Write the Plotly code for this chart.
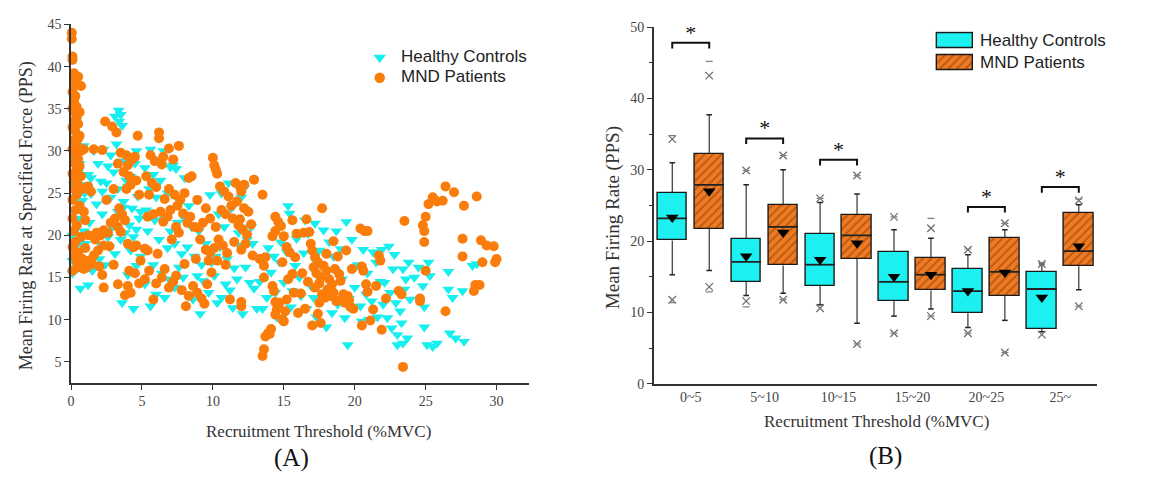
import plotly.graph_objects as go

W, H = 1175, 482

# ---------------- Panel A data (Recruitment threshold %MVC, mean firing rate PPS)
hc_pts = [
    (0.1,15.5),(0.1,17.0),(0.2,18.5),(0.1,20.0),(0.3,21.5),(0.2,23.0),(0.4,24.5),(0.2,26.0),(0.5,27.5),(0.3,29.0),
    (0.3,30.2),(0.6,28.5),(0.7,26.0),(0.8,24.1),(0.6,22.0),(0.9,20.5),(0.7,19.0),(0.5,17.5),(0.65,13.7),(0.9,30.6),
    (0.95,25.0),(0.4,16.0),
    (3.35,34.8),(3.5,34.3),(3.1,34.1),(3.4,33.5),(3.6,33.0),(1.6,30.0),(2.3,30.2),(2.8,29.5),(3.2,30.8),(4.6,30.0),
    (1.4,26.8),(2.1,26.4),(2.5,26.2),(1.2,27.2),(1.9,28.5),(2.6,28.2),(3.0,27.5),(3.8,28.8),(4.2,27.0),(4.5,28.5),
    (1.4,24.9),(1.8,23.7),(2.2,25.2),(2.8,24.5),(3.3,25.5),(3.7,24.0),(4.0,25.8),(4.3,23.2),(4.7,24.6),(4.9,22.8),
    (3.9,26.5),
    (1.2,14.1),(1.5,15.8),(2.0,17.2),(2.4,16.5),(2.7,18.6),(3.1,17.8),(3.5,19.5),(3.8,20.3),(4.1,21.2),(4.4,19.8),
    (4.6,20.7),(4.8,22.0),(1.3,21.5),(1.7,20.2),(2.2,22.5),(2.9,21.0),(3.3,22.8),(3.6,12.0),(4.4,11.3),(4.0,15.3),
    (4.6,16.4),(2.6,19.8),(1.0,19.0),(4.2,18.2),(3.7,23.3),(4.9,17.5),(2.1,18.9),
    (5.6,30.2),(6.5,30.0),(7.2,28.3),(7.0,28.1),(7.4,27.9),(8.0,26.8),(5.2,28.0),(5.8,27.2),(6.3,26.5),(5.5,25.5),
    (6.0,24.5),(6.8,25.0),(7.6,24.2),(8.3,23.5),(5.3,23.0),(5.9,21.8),(6.5,22.2),(7.0,20.5),(7.5,21.5),(8.0,22.0),
    (8.5,21.0),(9.0,20.5),(9.5,19.0),(9.8,24.8),(5.4,20.5),(6.2,19.5),(6.8,18.5),(7.3,19.0),(7.8,17.8),(8.2,18.6),
    (8.7,17.5),(9.2,16.5),(5.6,11.6),(5.8,16.5),(6.4,15.5),(6.9,14.8),(7.3,13.8),(7.9,15.0),(8.3,13.0),(8.6,12.4),
    (9.1,10.7),(9.3,14.6),(9.7,13.2),(5.2,14.2),(6.0,13.0),(6.6,12.6),(7.6,16.2),(8.9,15.2),(9.9,16.8),
    (10.3,12.0),(11.4,11.4),(12.1,10.7),(10.6,12.6),(10.9,14.2),(11.2,13.5),(11.7,14.8),(12.3,16.2),(12.6,14.4),(12.9,13.7),
    (10.2,17.5),(10.5,18.6),(11.0,17.2),(11.5,16.1),(11.9,18.8),(12.4,19.5),(12.7,21.0),(10.4,22.5),(10.8,21.0),(11.3,23.2),
    (11.6,22.0),(12.0,24.5),(12.2,25.6),(10.6,25.0),(11.1,26.2),(12.8,19.0),(10.1,15.2),(11.8,20.3),
    (13.1,11.3),(13.5,11.3),(13.3,14.5),(13.8,12.6),(14.1,15.6),(14.4,13.2),(14.7,16.8),(15.0,14.4),(15.3,23.5),(15.4,22.6),
    (15.6,13.4),(15.2,18.0),(14.8,19.2),(14.3,17.5),(15.8,16.4),(16.1,15.0),(16.4,17.9),(16.7,20.2),(16.9,14.0),(15.5,11.5),
    (14.9,12.2),(16.2,12.8),(13.9,18.5),(16.6,11.3),(16.5,21.8),(15.9,19.6),(14.5,10.3),(15.1,10.8),
    (17.3,10.3),(18.0,9.1),(19.5,7.0),(17.8,20.6),(17.2,21.4),(18.7,20.5),(19.4,21.6),(17.5,18.2),(18.2,19.2),(18.5,17.5),
    (19.0,18.4),(19.8,19.5),(20.6,18.3),(21.3,18.0),(21.9,18.3),(20.2,16.5),(20.9,15.5),(21.5,16.8),(17.6,14.8),(18.1,13.5),
    (18.8,11.8),(19.3,10.2),(19.6,12.5),(20.0,13.8),(20.4,11.6),(20.8,13.0),(21.2,12.2),(21.6,10.3),(21.8,14.5),(17.1,12.6),
    (18.4,10.8),(19.1,14.8),(20.5,9.8),(21.0,10.0),(19.9,16.0),(18.6,15.9),(17.4,16.6),
    (22.4,18.7),(22.7,16.0),(23.4,16.0),(23.8,16.8),(24.5,16.2),(25.2,16.8),(26.6,15.7),(28.3,16.4),(28.6,16.6),(22.1,14.4),
    (22.5,13.2),(22.9,12.0),(23.2,11.0),(23.5,13.6),(23.9,12.4),(24.2,15.0),(24.8,14.0),(24.9,11.5),(22.3,10.2),(22.6,9.0),
    (23.0,8.2),(23.0,7.0),(23.4,7.2),(23.7,7.8),(23.3,9.6),(24.9,9.1),(25.1,7.0),(25.5,6.8),(25.8,7.2),(26.7,8.4),
    (27.1,7.8),(27.7,7.4),(26.6,13.6),(26.9,12.6),(27.6,13.4),(25.3,15.2),(22.0,11.8),(23.6,14.8),(22.8,17.7),
]

mnd_pts = [
    (0.05,44.0),(0.05,43.3),(0.1,41.2),(0.1,40.8),(0.2,39.2),(0.3,38.5),(0.5,38.8),(0.7,37.7),(0.1,37.0),(0.3,36.5),
    (0.2,35.8),(0.1,35.0),(0.3,34.5),(0.4,34.0),(0.2,33.5),(0.5,33.2),(0.1,32.8),(0.3,32.3),(0.6,31.8),(0.2,31.3),
    (0.4,30.8),(0.1,30.2),(0.7,30.0),(0.9,30.2),(0.3,29.6),(0.5,29.0),(0.2,28.6),(0.6,28.2),(0.4,27.8),(0.1,27.3),
    (0.7,27.0),(0.3,26.5),(0.5,26.0),(0.2,25.5),(0.8,25.5),(0.4,24.8),(0.1,24.2),(0.6,23.5),(0.3,23.0),(0.9,22.8),
    (0.1,22.0),(1.0,21.8),(0.4,21.2),(0.2,20.5),(0.7,19.8),(0.3,19.2),(0.1,18.6),(0.5,18.0),(0.2,17.5),(0.8,17.2),
    (0.4,16.8),(0.6,16.2),(0.1,15.8),(0.9,16.0),(0.3,37.8),(0.2,36.0),(0.4,35.2),(0.6,34.6),(0.2,29.9),(0.5,31.5),
    (2.4,33.5),(2.9,32.9),(3.2,32.2),(4.7,31.8),(2.2,30.1),(1.6,30.2),(3.5,29.8),(3.9,29.5),(4.3,29.0),(4.5,29.3),
    (4.0,28.3),(3.3,28.5),(3.7,27.5),(4.1,27.0),(4.6,26.5),(4.2,26.0),(3.9,25.5),(3.0,25.5),(1.2,25.8),(1.4,25.2),
    (2.5,24.2),(4.8,24.8),(3.4,23.2),(3.6,22.5),(3.1,22.0),(3.8,21.8),(3.3,21.0),(2.8,21.5),(2.6,20.3),(2.3,20.6),
    (2.1,20.0),(3.5,20.4),(4.0,19.0),(4.4,18.6),(4.6,18.8),(1.7,19.5),(1.9,18.2),(1.3,17.0),(1.5,16.6),(2.3,18.8),
    (2.7,18.7),(3.0,16.5),(1.1,16.2),(1.6,17.6),(2.2,15.3),(2.3,13.8),(3.3,14.2),(4.0,14.0),(4.2,13.2),(4.1,15.8),
    (4.5,15.5),(4.8,14.3),(4.9,17.0),(3.8,12.9),(1.8,20.3),(2.0,16.3),(1.0,18.5),(1.2,20.0),
    (5.6,29.5),(5.9,28.8),(6.2,32.2),(6.2,31.5),(6.5,29.3),(6.9,30.3),(7.6,30.6),(7.2,29.0),(6.4,28.4),(5.3,27.0),
    (5.7,26.2),(6.0,25.7),(5.5,24.8),(6.6,24.3),(6.9,25.5),(7.3,24.8),(7.7,24.2),(8.0,25.0),(8.5,27.0),(8.3,26.8),
    (7.5,23.5),(7.0,23.0),(6.3,22.8),(5.8,22.5),(6.8,22.2),(7.9,22.6),(8.4,22.2),(8.2,21.5),(7.4,21.0),(6.5,21.6),
    (5.4,22.2),(5.2,18.4),(5.4,18.2),(6.1,17.8),(7.1,19.5),(7.6,20.3),(8.7,21.0),(9.0,20.9),(8.9,24.2),(9.5,23.2),
    (9.3,21.5),(9.8,22.0),(9.1,19.5),(9.5,18.3),(9.8,18.0),(5.2,14.8),(5.5,15.8),(6.0,14.3),(6.4,15.0),(6.9,13.8),
    (7.2,14.5),(7.8,13.5),(8.1,11.6),(8.3,12.8),(8.6,14.0),(8.9,13.2),(9.2,12.5),(9.4,11.9),(9.6,14.2),(9.9,15.6),
    (5.8,12.4),(6.6,16.0),(7.4,15.2),(8.0,16.6),(8.8,17.2),(9.7,17.0),
    (10.0,29.2),(10.1,28.3),(10.2,27.8),(10.3,27.3),(10.5,25.8),(10.8,25.2),(11.1,24.6),(11.6,26.2),(11.9,25.8),(12.0,25.2),
    (12.9,26.6),(11.3,23.5),(11.7,24.0),(12.2,23.2),(12.5,22.8),(10.6,23.0),(10.9,22.5),(11.4,22.0),(11.8,21.2),(12.1,20.7),
    (12.4,20.1),(12.7,21.3),(10.2,21.0),(10.4,19.5),(10.7,18.8),(11.0,17.9),(11.5,19.2),(12.0,18.3),(12.8,17.6),(10.3,17.0),
    (10.1,18.5),(11.2,12.4),(12.0,12.1),(12.0,11.6),(10.9,16.5),(12.3,19.0),(11.9,21.9),(12.2,26.0),
    (13.5,24.8),(13.5,5.7),(13.6,6.5),(13.7,8.0),(13.9,8.4),(14.1,8.9),(14.0,8.3),(13.6,15.0),(13.6,16.4),(13.7,17.4),
    (14.2,14.0),(14.3,13.4),(14.4,12.1),(14.5,11.2),(14.6,11.5),(14.4,10.6),(14.7,12.0),(14.9,10.0),(15.0,9.8),(15.1,11.0),
    (14.2,19.9),(14.4,20.5),(14.6,21.6),(14.4,22.2),(14.8,21.1),(15.0,19.9),(15.2,18.6),(15.4,18.0),(15.3,14.8),(15.6,15.4),
    (15.8,17.4),(15.6,21.8),(15.9,20.2),(14.9,16.8),(15.7,13.2),(16.0,10.8),(15.2,12.4),(13.3,17.2),
    (16.2,13.1),(16.5,11.3),(16.6,21.9),(16.4,20.3),(16.8,20.4),(16.9,19.0),(17.0,18.2),(17.2,17.4),(17.4,16.8),(17.1,16.2),
    (17.3,15.5),(17.6,15.0),(17.5,14.3),(17.2,13.8),(17.7,13.0),(17.9,12.6),(17.5,12.0),(17.4,10.7),(17.0,9.3),(17.7,23.2),
    (17.8,16.4),(18.0,15.8),(18.2,14.8),(18.4,14.2),(18.1,13.6),(18.3,12.8),(18.5,13.2),(18.7,12.2),(18.6,16.0),(18.9,15.4),
    (18.8,17.5),(19.0,14.6),(19.2,13.0),(19.1,12.5),(19.3,12.0),(19.5,12.8),(19.6,12.3),(19.8,16.0),(19.4,18.2),(18.5,19.3),
    (18.0,17.8),(17.6,9.6),(19.7,11.5),(19.9,11.3),(16.3,15.5),(16.7,14.5),
    (20.4,20.8),(20.7,20.5),(20.9,20.5),(20.5,16.3),(20.6,15.8),(20.8,14.2),(20.9,13.3),(21.3,11.2),(21.1,9.9),(20.5,9.3),
    (21.9,8.8),(21.7,17.6),(21.8,17.0),(22.2,12.5),(21.5,14.0),
    (23.5,21.7),(23.1,13.4),(23.4,4.4),(23.3,13.0),(24.6,12.5),(24.6,12.2),(25.0,15.8),(24.8,21.2),(24.9,20.5),(25.0,22.2),
    (24.9,19.2),(25.2,23.7),(25.5,24.5),(25.8,24.0),(26.2,24.1),(26.4,25.8),(27.0,25.1),(27.7,23.5),(28.6,24.6),(27.6,19.6),
    (28.9,19.4),(29.3,18.8),(29.8,18.7),(30.0,17.2),(29.9,16.8),(29.0,16.8),(27.6,17.5),(28.8,14.1),(28.4,13.4),(28.5,14.1),
    (26.4,11.0),(25.6,24.2),
]
hc_x = [p[0] for p in hc_pts]
hc_y = [p[1] for p in hc_pts]
mnd_x = [p[0] for p in mnd_pts]
mnd_y = [p[1] for p in mnd_pts]

a_xticks = [0, 5, 10, 15, 20, 25, 30]
a_yticks = [5, 10, 15, 20, 25, 30, 35, 40, 45]

# ---------------- Panel B data (box statistics)
categories = ['0~5', '5~10', '10~15', '15~20', '20~25', '25~']
hc_q1 = [20.1, 14.3, 13.7, 11.6, 9.9, 7.7]
hc_med = [23.2, 17.1, 16.7, 14.3, 13.0, 13.3]
hc_q3 = [26.7, 20.3, 21.0, 18.5, 16.1, 15.7]
hc_lo = [15.3, 12.4, 11.1, 9.5, 7.9, 7.3]
hc_hi = [31.0, 27.9, 25.4, 21.6, 18.1, 16.8]
hc_mean = [23.3, 17.9, 17.4, 15.0, 13.0, 12.1]
hc_p1 = [11.8, 11.6, 10.6, 7.1, 7.1, 6.9]
hc_p99 = [34.3, 29.9, 26.0, 23.4, 18.8, 16.8]
hc_min = [11.4, 10.8, 11.0, 7.1, 7.1, 7.2]
hc_max = [34.8, 29.9, 26.0, 23.4, 18.9, 17.0]

mnd_q1 = [21.7, 16.6, 17.5, 13.1, 12.3, 16.5]
mnd_med = [27.9, 22.0, 20.8, 15.3, 15.7, 18.6]
mnd_q3 = [32.2, 25.0, 23.7, 17.7, 20.5, 23.9]
mnd_lo = [15.9, 12.7, 8.5, 10.5, 8.9, 13.2]
mnd_hi = [37.7, 30.0, 26.6, 20.4, 21.6, 25.1]
mnd_mean = [27.0, 21.2, 19.7, 15.3, 15.6, 19.3]
mnd_p1 = [13.6, 11.8, 5.6, 9.5, 4.4, 10.9]
mnd_p99 = [43.2, 32.0, 29.2, 21.8, 22.5, 25.7]
mnd_min = [12.9, 11.8, 5.6, 9.5, 4.4, 10.9]
mnd_max = [45.2, 32.0, 29.2, 23.2, 22.5, 25.9]

sig_idx = [0, 1, 2, 4, 5]
sig_y = [47.8, 34.4, 31.4, 24.8, 27.6]
b_yticks = [0, 10, 20, 30, 40, 50]

# ---------------- styling
CYAN = '#17EFEF'
ORANGE = '#FA7D0C'
BOX_CYAN = '#1CF0F0'
BOX_OR = '#EE7A22'
HATCH = '#7A3508'
AX = '#333333'
SERIF = 'Liberation Serif, Times New Roman, serif'
SANS = 'Liberation Sans, Arial, sans-serif'

fig = go.Figure()

# Panel A scatter
fig.add_trace(go.Scatter(x=hc_x, y=hc_y, mode='markers', xaxis='x', yaxis='y', cliponaxis=False,
                         marker=dict(symbol='triangle-down', size=10.5, color=CYAN), showlegend=False))
fig.add_trace(go.Scatter(x=mnd_x, y=mnd_y, mode='markers', xaxis='x', yaxis='y', cliponaxis=False,
                         marker=dict(symbol='circle', size=10, color=ORANGE), showlegend=False))

# Panel B boxes
OFF = 0.25
BW = 0.4
pos_h = [i - OFF for i in range(len(categories))]
pos_m = [i + OFF for i in range(len(categories))]

fig.add_trace(go.Bar(x=pos_h, y=[b - a for a, b in zip(hc_q1, hc_q3)], base=hc_q1, width=BW,
                     xaxis='x2', yaxis='y2', showlegend=False,
                     marker=dict(color=BOX_CYAN, line=dict(color='#1a1a1a', width=1.4))))
fig.add_trace(go.Bar(x=pos_m, y=[b - a for a, b in zip(mnd_q1, mnd_q3)], base=mnd_q1, width=BW,
                     xaxis='x2', yaxis='y2', showlegend=False,
                     marker=dict(color=BOX_OR, line=dict(color='#1a1a1a', width=1.4),
                                 pattern=dict(shape='/', bgcolor=BOX_OR, fgcolor=HATCH, size=6, solidity=0.3))))


def whiskers(pos, lo, q1, q3, hi):
    X, Y = [], []
    for p, a, b, c, d in zip(pos, lo, q1, q3, hi):
        X += [p, p, None, p, p, None]
        Y += [a, b, None, c, d, None]
    return X, Y


for pos, lo, q1, q3, hi in [(pos_h, hc_lo, hc_q1, hc_q3, hc_hi), (pos_m, mnd_lo, mnd_q1, mnd_q3, mnd_hi)]:
    wx, wy = whiskers(pos, lo, q1, q3, hi)
    fig.add_trace(go.Scatter(x=wx, y=wy, mode='lines', xaxis='x2', yaxis='y2', showlegend=False,
                             line=dict(color='#222', width=1.1)))
    fig.add_trace(go.Scatter(x=pos + pos, y=lo + hi, mode='markers', xaxis='x2', yaxis='y2', showlegend=False,
                             marker=dict(symbol='line-ew', size=4, line=dict(color='#222', width=1.5))))

for pos, med, mean, p1, p99, mn, mx in [(pos_h, hc_med, hc_mean, hc_p1, hc_p99, hc_min, hc_max),
                                        (pos_m, mnd_med, mnd_mean, mnd_p1, mnd_p99, mnd_min, mnd_max)]:
    fig.add_trace(go.Scatter(x=pos, y=med, mode='markers', xaxis='x2', yaxis='y2', showlegend=False,
                             marker=dict(symbol='line-ew', size=21.2, line=dict(color='#222', width=1.8))))
    fig.add_trace(go.Scatter(x=pos, y=mean, mode='markers', xaxis='x2', yaxis='y2', showlegend=False,
                             marker=dict(symbol='triangle-down', size=11, color='#000')))
    fig.add_trace(go.Scatter(x=pos + pos, y=p1 + p99, mode='markers', xaxis='x2', yaxis='y2', showlegend=False,
                             marker=dict(symbol='x-thin', size=7.5, line=dict(color='#707070', width=1.3))))
    fig.add_trace(go.Scatter(x=pos + pos, y=mn + mx, mode='markers', xaxis='x2', yaxis='y2', showlegend=False,
                             marker=dict(symbol='line-ew', size=5, line=dict(color='#808080', width=1.2))))

# significance brackets
bx, by, sx, sy = [], [], [], []
for i, yv in zip(sig_idx, sig_y):
    bx += [pos_h[i], pos_h[i], pos_m[i], pos_m[i], None]
    by += [yv - 0.8, yv, yv, yv - 0.8, None]
    sx.append(i)
    sy.append(yv + 1.2)
fig.add_trace(go.Scatter(x=bx, y=by, mode='lines', xaxis='x2', yaxis='y2', showlegend=False,
                         line=dict(color='#111', width=2)))
fig.add_trace(go.Scatter(x=sx, y=sy, mode='text', text=['*'] * len(sx), xaxis='x2', yaxis='y2',
                         showlegend=False, textfont=dict(family=SERIF, size=22, color='#111')))

# legend patches for panel B (overlay axes)
fig.add_trace(go.Bar(y=[1], x=[1], orientation='h', width=0.7, xaxis='x3', yaxis='y3', showlegend=False,
                     marker=dict(color=BOX_CYAN, line=dict(color='#1a1a1a', width=1.4))))
fig.add_trace(go.Bar(y=[0], x=[1], orientation='h', width=0.7, xaxis='x3', yaxis='y3', showlegend=False,
                     marker=dict(color=BOX_OR, line=dict(color='#1a1a1a', width=1.4),
                                 pattern=dict(shape='/', bgcolor=BOX_OR, fgcolor=HATCH, size=6, solidity=0.3))))
# legend markers for panel A
fig.add_trace(go.Scatter(x=[0], y=[1], mode='markers', xaxis='x4', yaxis='y4', showlegend=False, cliponaxis=False,
                         marker=dict(symbol='triangle-down', size=11, color=CYAN)))
fig.add_trace(go.Scatter(x=[0], y=[0], mode='markers', xaxis='x4', yaxis='y4', showlegend=False, cliponaxis=False,
                         marker=dict(symbol='circle', size=10.5, color=ORANGE)))


def px(p):
    return p / W


def py(p):
    return 1 - p / H


axis_common = dict(showgrid=False, zeroline=False, showline=True, linecolor=AX, linewidth=1.5,
                   ticks='outside', ticklen=5, tickwidth=1.3, tickcolor=AX,
                   tickfont=dict(family=SERIF, size=14, color='#444'))

fig.update_layout(
    width=W, height=H, margin=dict(l=0, r=0, t=0, b=0),
    paper_bgcolor='white', plot_bgcolor='rgba(0,0,0,0)', bargap=0, barmode='overlay',
    xaxis=dict(domain=[px(67.3), px(527)], range=[0, 32.3], tickvals=a_xticks, anchor='y', **axis_common),
    yaxis=dict(domain=[py(388), py(18)], range=[2.5, 45], tickvals=a_yticks, anchor='x', **axis_common),
    xaxis2=dict(domain=[px(652), px(1097)], range=[-0.5, 5.5], tickvals=list(range(len(categories))),
                ticktext=categories, anchor='y2', showgrid=False, zeroline=False, showline=True,
                linecolor=AX, linewidth=1.5, ticks='', tickfont=dict(family=SERIF, size=14, color='#444')),
    yaxis2=dict(domain=[py(389), py(20.7)], range=[0, 50], tickvals=b_yticks, anchor='x2',
                minor=dict(dtick=5, ticks='outside', ticklen=3, tickwidth=1.2, tickcolor=AX), **axis_common),
    xaxis3=dict(domain=[px(934.2), px(973.8)], range=[-0.05, 1.05], visible=False, fixedrange=True),
    yaxis3=dict(domain=[py(67.6), py(24.9)], range=[-0.45, 1.45], visible=False, fixedrange=True, anchor='x3'),
    xaxis4=dict(domain=[px(367), px(387)], range=[-1, 1], visible=False, fixedrange=True),
    yaxis4=dict(domain=[py(83.5), py(41.5)], range=[-0.5, 1.5], visible=False, fixedrange=True, anchor='x4'),
)

ann = [
    dict(text='Mean Firing Rate at Specified Force (PPS)', x=px(22), y=py(215), textangle=-90,
         font=dict(family=SERIF, size=18, color='#333')),
    dict(text='Recruitment Threshold (%MVC)', x=px(316), y=py(438), font=dict(family=SERIF, size=17, color='#333')),
    dict(text='(A)', x=px(288), y=py(466), font=dict(family=SERIF, size=25, color='#111')),
    dict(text='Mean Firing Rate (PPS)', x=px(611), y=py(217), textangle=-90,
         font=dict(family=SERIF, size=19, color='#333')),
    dict(text='Recruitment Threshold (%MVC)', x=px(875), y=py(428), font=dict(family=SERIF, size=17, color='#333')),
    dict(text='(B)', x=px(885), y=py(463), font=dict(family=SERIF, size=25, color='#111')),
    dict(text='Healthy Controls', x=px(396), y=py(51), xanchor='left', font=dict(family=SANS, size=17, color='#222')),
    dict(text='MND Patients', x=px(396), y=py(72), xanchor='left', font=dict(family=SANS, size=17, color='#222')),
    dict(text='Healthy Controls', x=px(977), y=py(35), xanchor='left', font=dict(family=SANS, size=17, color='#222')),
    dict(text='MND Patients', x=px(977), y=py(57.5), xanchor='left', font=dict(family=SANS, size=17, color='#222')),
]
for a in ann:
    a.setdefault('xanchor', 'center')
    a.update(xref='paper', yref='paper', yanchor='middle', showarrow=False)
fig.update_layout(annotations=ann)

fig.write_html('out.html', config={'displayModeBar': False},
               post_script="document.body.style.margin='0';document.body.style.overflow='hidden';")
